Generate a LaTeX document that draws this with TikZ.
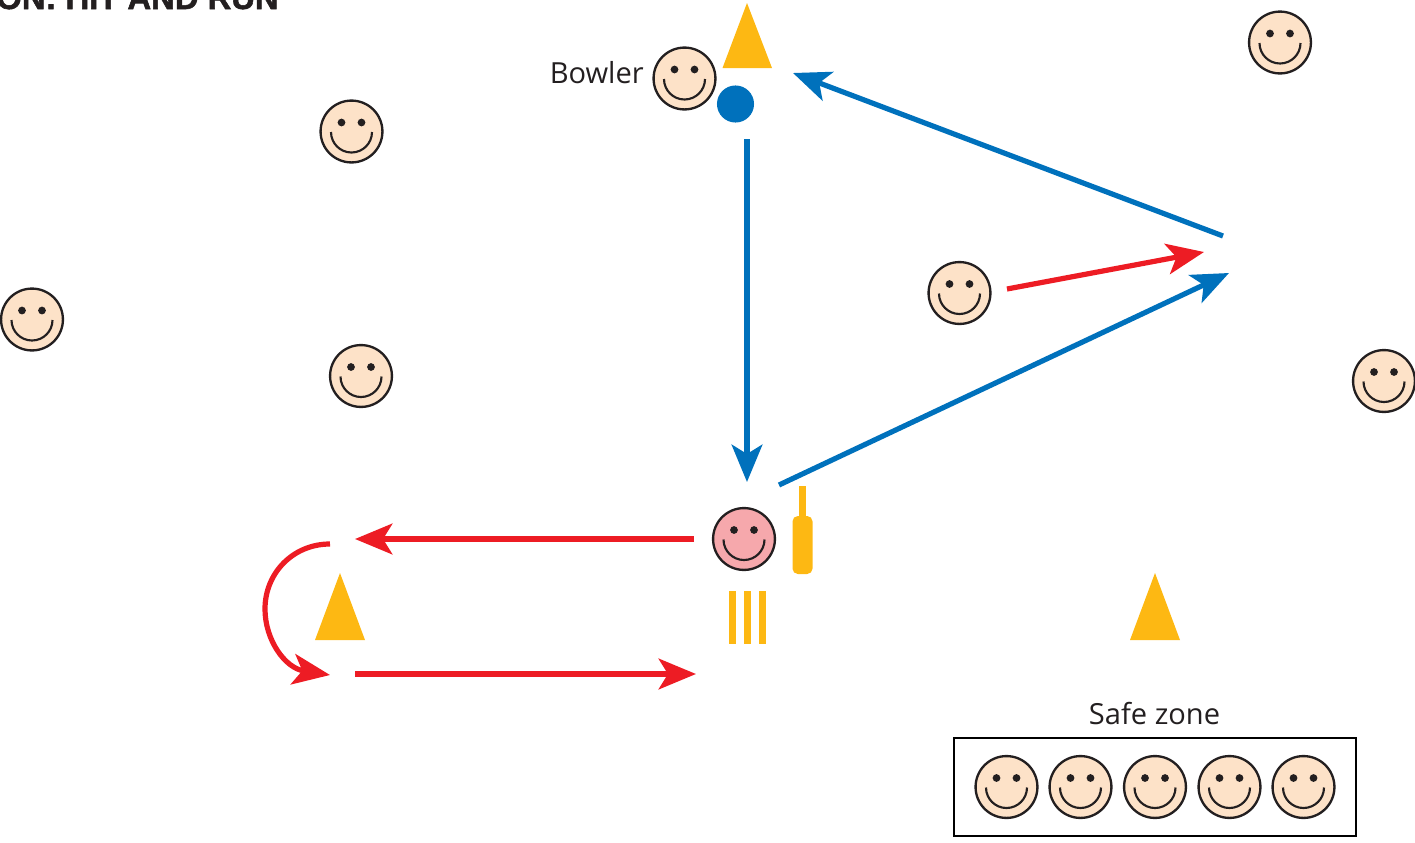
\documentclass[tikz,border=0pt]{standalone}
\usepackage{fontspec}
\setmainfont{Open Sans}
\newfontfamily\titlefont[BoldFont={Liberation Sans Bold},BoldFeatures={FakeBold=1.6}]{Liberation Sans}
\usetikzlibrary{arrows.meta}
\definecolor{skin}{HTML}{FDE2C8}
\definecolor{pinkface}{HTML}{F6A8AC}
\definecolor{cone}{HTML}{FDB813}
\definecolor{bluearrow}{HTML}{0071BC}
\definecolor{redarrow}{HTML}{ED1C24}
\definecolor{ink}{HTML}{231F20}
\tikzset{
  x=0.75pt,y=-0.75pt,
  face/.style={circle,draw=ink,line width=1.75pt,minimum size=46.4pt,inner sep=0pt,fill=#1},
  face/.default=skin,
  smile/.pic={
    \fill[ink] (-10,-9) circle (2.9pt) (10,-9) circle (2.9pt);
    \draw[ink,line width=1.6pt] (-20.5,0.5) arc[start angle=180,end angle=360,radius=20.5*0.75pt];
  },
  conetri/.style={fill=cone,draw=none},
  stump/.style={fill=cone,draw=none},
  hd/.style={-{Stealth[length=28pt,width=23pt,inset=7pt]}},
  bluea/.style={draw=bluearrow,line width=3.9pt,hd},
  reda/.style={draw=redarrow,line width=3.9pt,hd},
  lbl/.style={text=ink,font=\fontsize{21.8pt}{24pt}\selectfont,inner sep=0pt},
}
\begin{document}
\begin{tikzpicture}
\useasboundingbox (0,0) rectangle (1415,843);
\clip (0,0) rectangle (1415,843);
\node[anchor=base east,inner sep=0pt,text=ink,font=\titlefont\bfseries\fontsize{24.6pt}{26pt}\selectfont] (title) at (279,9) {ON: HIT AND RUN};

% cones
\fill[conetri] (747,3) -- (772,68) -- (722.5,68) -- cycle;
\fill[conetri] (340,573) -- (365,640) -- (315,640) -- cycle;
\fill[conetri] (1155,573) -- (1180,640) -- (1130,640) -- cycle;

% players
\foreach \n/\x/\y in {bowler/684.5/78.5,f1/351.5/131.5,f2/32/319.5,f3/361/376,f4/1280/42.5,f5/959.5/293,f6/1384/381,s1/1006.5/787,s2/1080.5/787,s3/1155/787,s4/1229.5/787,s5/1303.5/787}{
  \node[face] (\n) at (\x,\y) {};
  \pic at (\x,\y) {smile};
}
\node[face=pinkface] (batter) at (744,539) {};
\pic at (744,539) {smile};

% ball, bat, stumps
\fill[bluearrow] (735.5,104) circle (13.9pt);
\fill[cone] (799,486) rectangle (806,520);
\fill[cone,rounded corners=4pt] (792.5,516) rectangle (812.5,574);
\fill[stump] (729,591) rectangle (736,644);
\fill[stump] (744,591) rectangle (751,644);
\fill[stump] (759,591) rectangle (766,644);

% labels
\node[lbl,anchor=base east] (bowlerlabel) at (644,83) {Bowler};
\node[lbl,anchor=base] (safelabel) at (1154.5,724) {Safe zone};
\node[draw=black,line width=1.7pt,minimum width=301pt,minimum height=73.5pt,inner sep=0pt] (safebox) at (1155,787) {};

% connector ends
\coordinate (b1s) at (747,139); \coordinate (b1e) at (747,482);
\coordinate (b2s) at (779,485); \coordinate (b2e) at (1229,273);
\coordinate (b3s) at (1223,236); \coordinate (b3e) at (793,73);
\coordinate (r1s) at (1007,289); \coordinate (r1e) at (1204,252);
\coordinate (r2s) at (694,539); \coordinate (r2e) at (355,539);
\coordinate (r3s) at (330,544); \coordinate (r3e) at (330,675);
\coordinate (r4s) at (355,674); \coordinate (r4e) at (696,674);

\draw[bluea] (b1s) -- (b1e);
\draw[bluea] (b2s) -- (b2e);
\draw[bluea] (b3s) -- (b3e);
\draw[reda] (r1s) -- (r1e);
\draw[reda] (r2s) -- (r2e);
\draw[reda] (r3s) .. controls (293,544) and (265,573) .. (265,609) .. controls (265,640) and (285,668) .. (r3e);
\draw[reda] (r4s) -- (r4e);
\end{tikzpicture}
\end{document}
